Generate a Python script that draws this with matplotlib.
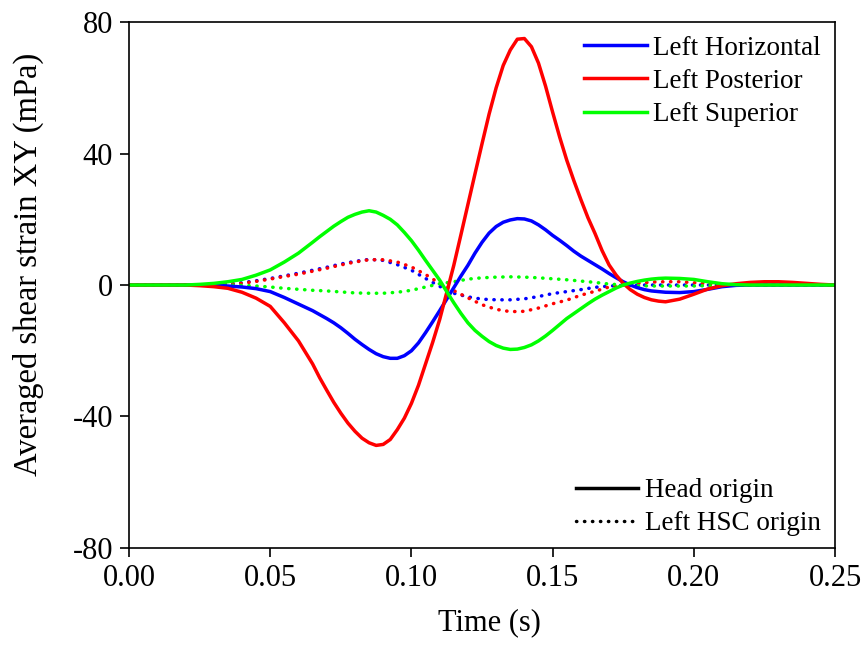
import matplotlib
matplotlib.use("Agg")
import matplotlib.pyplot as plt
from matplotlib.lines import Line2D

plt.rcParams['font.family'] = ['Liberation Serif', 'DejaVu Serif']
plt.rcParams['axes.unicode_minus'] = False

# time (s) for the dotted series, step 0.005
t = [i * 0.005 for i in range(51)]
# time (s) for the solid series: finer step 0.0025 around the peaks
t_fine = ([i * 0.005 for i in range(14)]
          + [0.0675 + i * 0.0025 for i in range(49)]
          + [0.19 + i * 0.005 for i in range(13)])

# head origin (solid), on t_fine
horiz_head = [0, 0, 0, 0, 0, 0, -0.1, -0.3, -0.6, -1.1, -2.0, -3.8, -5.8, -7.8,
              -9.0, -10.2, -11.5, -13.0, -14.7, -16.5, -18.1, -19.6, -20.9, -21.8,
              -22.3, -22.3, -21.5, -20.0, -17.6, -14.5, -11.2, -7.8, -4.3, -0.8,
              2.7, 6.0, 9.7, 13.0, 15.8, 17.8, 19.1, 19.8, 20.2, 20.1,
              19.5, 18.3, 16.8, 15.1, 13.6, 12.0, 10.3, 8.8, 7.5, 6.2,
              4.9, 3.5, 2.2, 1.0, 0, -0.8, -1.4, -1.8, -2.0,
              -2.2, -2.3, -2.0, -1.3, -0.5, -0.1, 0, 0, 0, 0, 0, 0, 0]
post_head = [0, 0, 0, 0, 0, -0.2, -0.5, -1.0, -2.2, -4.0, -6.5, -11.5, -17.0, -24.0,
             -28.2, -32.0, -35.7, -39.0, -42.0, -44.5, -46.6, -48.0, -48.8, -48.5,
             -47.0, -44.0, -40.5, -36.0, -30.5, -24.0, -17.5, -10.5, -2.3, 6.0,
             15.2, 24.5, 33.8, 43.0, 52.0, 60.0, 66.8, 71.5, 74.8, 75.0,
             72.5, 67.5, 60.5, 52.6, 45.0, 38.0, 31.8, 26.0, 20.5, 15.7,
             10.5, 6.1, 3.0, 0.5, -1.4, -2.8, -3.8, -4.5, -4.9,
             -5.1, -4.3, -2.8, -1.2, -0.2, 0.4, 0.8, 1.0, 1.0, 0.8, 0.5, 0.2, 0]
sup_head = [0, 0, 0, 0, 0, 0.2, 0.5, 1.0, 1.7, 3.0, 4.6, 7.0, 9.7, 13.0,
            14.7, 16.3, 17.9, 19.3, 20.6, 21.5, 22.2, 22.6, 22.2, 21.2,
            20.0, 18.3, 16.0, 13.5, 10.6, 7.5, 4.5, 1.5, -2.0, -5.4,
            -8.6, -11.5, -13.8, -15.6, -17.2, -18.4, -19.2, -19.6, -19.5, -19.0,
            -18.2, -17.0, -15.5, -13.8, -12.0, -10.2, -8.7, -7.2, -5.7, -4.3,
            -3.1, -2.0, -0.9, 0, 0.6, 1.1, 1.5, 1.8, 2.0,
            2.1, 2.0, 1.7, 1.0, 0.4, 0.1, 0, 0, 0, 0, 0, 0, 0]

# left HSC origin (dotted), on t
horiz_hsc = [0, 0, 0, 0, 0, 0, 0, 0.3, 0.7, 1.3,
             2.0, 2.8, 3.6, 4.5, 5.4, 6.4, 7.2, 7.8, 7.5, 6.2,
             4.5, 2.0, -0.4, -2.5, -3.6, -4.3, -4.5, -4.5, -4.2, -3.5,
             -2.6, -2.0, -1.4, -0.7, -0.3, -0.1, 0, 0, 0, 0,
             0, 0, 0, 0, 0, 0, 0, 0, 0, 0, 0]
post_hsc = [0, 0, 0, 0, 0, 0, 0, 0.2, 0.5, 1.1,
            1.8, 2.6, 3.3, 4.2, 5.1, 6.1, 7.0, 7.7, 7.7, 7.0,
            5.5, 3.2, 0.5, -1.7, -3.9, -6.0, -7.4, -8.1, -8.0, -7.0,
            -5.7, -4.6, -3.1, -1.9, -0.6, 0, 0.5, 0.9, 1.0, 1.0,
            0.7, 0.4, 0.1, 0, 0, 0, 0, 0, 0, 0, 0]
sup_hsc = [0, 0, 0, 0, 0, 0, 0, 0, -0.1, -0.3,
           -0.6, -1.0, -1.3, -1.6, -1.8, -2.1, -2.4, -2.5, -2.5, -2.2,
           -1.6, -0.6, 0.4, 1.0, 1.8, 2.2, 2.4, 2.5, 2.4, 2.2,
           1.9, 1.6, 1.2, 0.8, 0.3, 0, -0.2, -0.3, -0.3, -0.3,
           -0.3, -0.2, -0.1, 0, 0, 0, 0, 0, 0, 0, 0]

names = ['Left Horizontal', 'Left Posterior', 'Left Superior']
colors = ['#0000ff', '#ff0000', '#00ff00']
head = [horiz_head, post_head, sup_head]
hsc = [horiz_hsc, post_hsc, sup_hsc]

fig = plt.figure(figsize=(8.62, 6.5), dpi=100)
ax = fig.add_axes([0.1497, 0.157, 0.819, 0.809])

dot = (0, (0.1, 2.2))
for y, c in zip(hsc, colors):
    ax.plot(t, y, color=c, lw=2.5, linestyle=dot, dash_capstyle='round')
handles = []
for y, c, n in zip(head, colors, names):
    h, = ax.plot(t_fine, y, color=c, lw=2.5, label=n, solid_joinstyle='round')
    handles.append(h)

ax.set_xlim(0, 0.25)
ax.set_ylim(-80, 80)
ax.set_xticks([0, 0.05, 0.10, 0.15, 0.20, 0.25])
ax.set_xticklabels(['0.00', '0.05', '0.10', '0.15', '0.20', '0.25'])
ax.set_yticks([-80, -40, 0, 40, 80])
ax.tick_params(direction='out', length=6.5, width=1.2, labelsize=22, pad=5)
for s in ax.spines.values():
    s.set_linewidth(1.2)

ax.set_xlabel('Time (s)', fontsize=22)
ax.xaxis.set_label_coords(0.51, -0.115)
ax.set_ylabel('Averaged shear strain XY (mPa)', fontsize=23.5)
ax.yaxis.set_label_coords(-0.12, 0.54)

leg1 = ax.legend(handles=handles, loc='upper left', bbox_to_anchor=(0.645, 0.974),
                 frameon=False, fontsize=19.5, handlelength=2.3, handletextpad=0.25,
                 labelspacing=0.3, borderpad=0, borderaxespad=0)
ax.add_artist(leg1)
style_handles = [Line2D([], [], color='black', lw=2.5),
                 Line2D([], [], color='black', lw=2.5, linestyle=dot, dash_capstyle='round')]
ax.legend(handles=style_handles, labels=['Head origin', 'Left HSC origin'],
          loc='lower left', bbox_to_anchor=(0.633, 0.022), frameon=False,
          fontsize=19.5, handlelength=2.3, handletextpad=0.25, labelspacing=0.3,
          borderpad=0, borderaxespad=0)

fig.savefig('out.png', dpi=100)
